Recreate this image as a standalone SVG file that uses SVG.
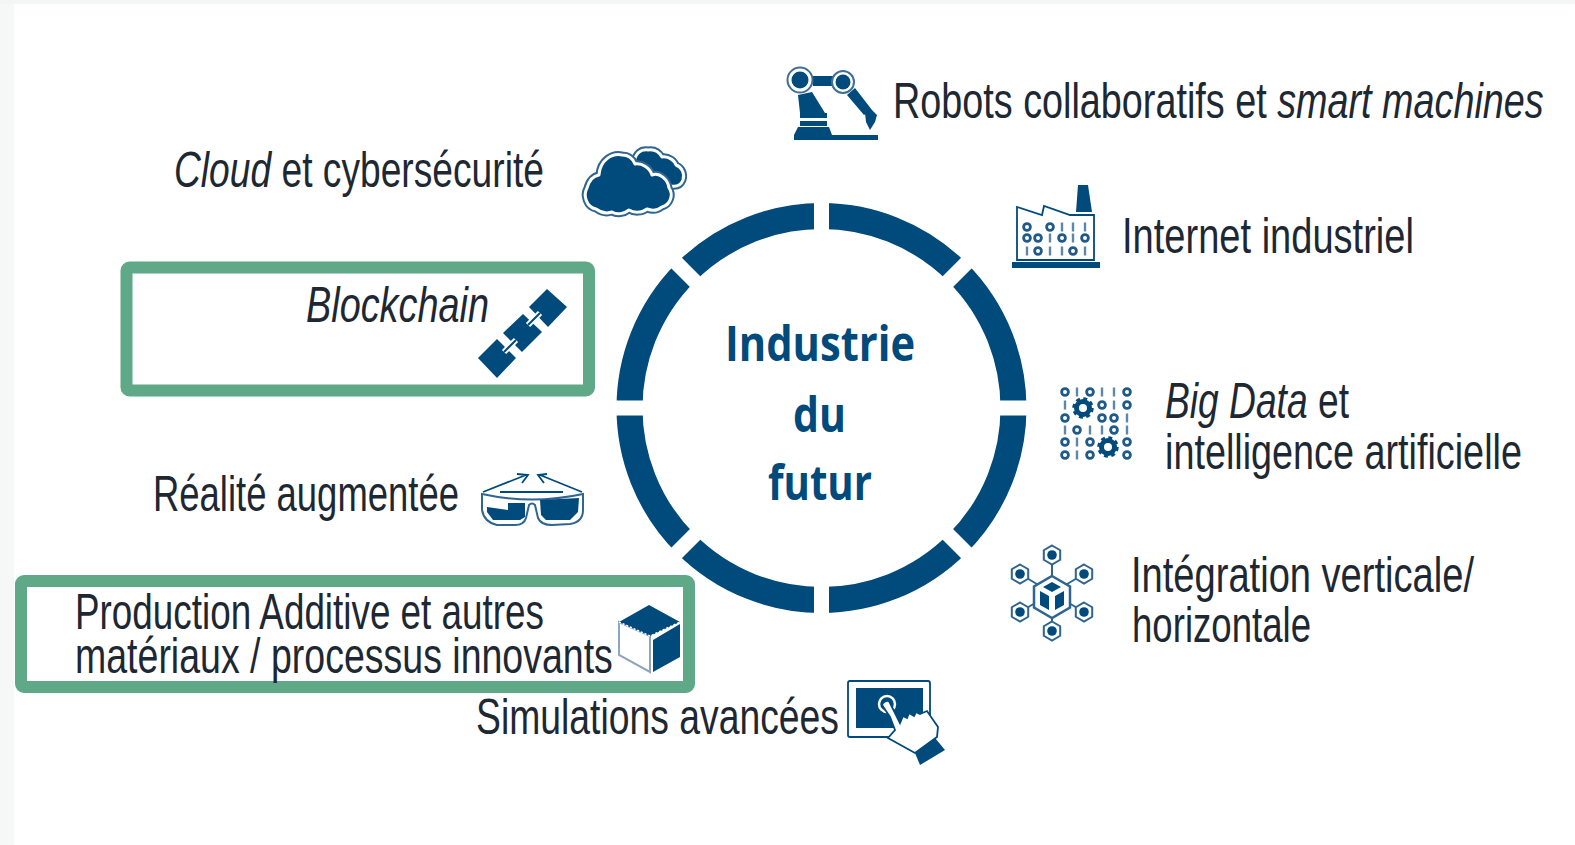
<svg xmlns="http://www.w3.org/2000/svg" width="1575" height="845" viewBox="0 0 1575 845">
<style>
.t{font-family:"Liberation Sans",Arial,sans-serif;font-size:50px;fill:#1d2833}
.i{font-style:italic}
.c{font-family:"Open Sans","Noto Sans",sans-serif;font-size:48px;font-weight:700;fill:#004a7c}
.box{fill:none;stroke:#5fa888;stroke-width:12}
.b{fill:#004a7c}
.l{fill:none;stroke:#004a7c;stroke-width:1.8}
</style>
<defs>
<circle id="o" r="3.4" fill="none" stroke="#1f5a88" stroke-width="2.8"/>
<rect id="n" x="-1.2" y="-4.5" width="2.4" height="9" fill="#5f88a8"/>
<g id="gear"><circle r="6.5" fill="none" stroke="#004a7c" stroke-width="5"/><circle r="9.5" fill="none" stroke="#004a7c" stroke-width="2.5" stroke-dasharray="4 3.46"/></g>
<g id="hex"><polygon points="0,-9.500 8.200,-4.750 8.200,4.750 0,9.500 -8.200,4.750 -8.200,-4.750" fill="#fff" stroke="#2f6590" stroke-width="2"/><circle r="4.800" fill="#004a7c"/></g>
</defs>
<rect width="1575" height="845" fill="#fff"/>
<rect width="14" height="845" fill="#f6f7f7"/>
<rect width="1575" height="4" fill="#f4f5f5"/>

<g id="ring">
<circle cx="821.5" cy="408" r="192" fill="none" stroke="#004a7c" stroke-width="26"/>
<g stroke="#fff" stroke-width="15">
<line x1="821.5" y1="195" x2="821.5" y2="621"/>
<line x1="608" y1="408" x2="1035" y2="408"/>
<line x1="671" y1="257.5" x2="972" y2="558.5"/>
<line x1="972" y1="257.5" x2="671" y2="558.5"/>
</g>
<text class="c" x="725" y="361" textLength="190" lengthAdjust="spacingAndGlyphs">Industrie</text>
<text class="c" x="793" y="432" textLength="53" lengthAdjust="spacingAndGlyphs">du</text>
<text class="c" x="768" y="500" textLength="104" lengthAdjust="spacingAndGlyphs">futur</text>
</g>

<g id="connectors"/>

<g id="node-robots">
<path class="b" d="M794,135H878V140H794ZM798,127H829L832,135H794ZM800,121H827V126H800ZM800,113H827V118H800ZM798,95L812,92L825,113H800ZM813,76H833V86H813ZM847,95L855,88L872,110L864,115ZM865,113L872,110L877,115L875,122L870,130L866,122Z"/>
<circle cx="800" cy="80" r="12.500" fill="#fff" stroke="#3f6f98" stroke-width="2"/><circle class="b" cx="800" cy="80" r="8.500"/>
<circle cx="843" cy="82" r="11" fill="#fff" stroke="#3f6f98" stroke-width="2"/><circle class="b" cx="843" cy="82" r="7.500"/>
<text class="t" transform="translate(893,118) scale(.7557,1)">Robots collaboratifs et <tspan class="i">smart machines</tspan></text>
</g>

<g id="node-internet">
<path class="b" d="M1078,185H1088L1092,212H1076ZM1012,262H1100V268H1012Z"/>
<path class="l" d="M1017,260V207L1042,215L1044,206L1070,215H1094V260Z"/>
<use href="#o" x="1027" y="227"/><use href="#o" x="1050" y="227"/><use href="#n" x="1062" y="227"/><use href="#n" x="1073" y="227"/><use href="#n" x="1085" y="227"/>
<use href="#o" x="1027" y="238"/><use href="#o" x="1038" y="238"/><use href="#n" x="1050" y="238"/><use href="#o" x="1062" y="238"/><use href="#n" x="1073" y="238"/><use href="#o" x="1085" y="238"/>
<use href="#n" x="1027" y="251"/><use href="#o" x="1038" y="251"/><use href="#n" x="1050" y="251"/><use href="#n" x="1062" y="251"/><use href="#o" x="1073" y="251"/><use href="#n" x="1085" y="251"/>
<text class="t" transform="translate(1122,253) scale(.7614,1)">Internet industriel</text>
</g>

<g id="node-bigdata">
<use href="#o" x="1065" y="392"/><use href="#n" x="1077" y="392"/><use href="#o" x="1090" y="392"/><use href="#n" x="1102" y="392"/><use href="#n" x="1114" y="392"/><use href="#o" x="1127" y="392"/>
<use href="#n" x="1065" y="405"/><use href="#o" x="1102" y="405"/><use href="#n" x="1114" y="405"/><use href="#o" x="1127" y="405"/>
<use href="#o" x="1065" y="418"/><use href="#o" x="1102" y="418"/><use href="#o" x="1114" y="418"/><use href="#n" x="1127" y="418"/>
<use href="#n" x="1065" y="430"/><use href="#o" x="1077" y="430"/><use href="#n" x="1090" y="430"/><use href="#n" x="1102" y="430"/><use href="#o" x="1114" y="430"/><use href="#n" x="1127" y="430"/>
<use href="#o" x="1065" y="442"/><use href="#n" x="1077" y="442"/><use href="#o" x="1090" y="442"/><use href="#o" x="1127" y="442"/>
<use href="#o" x="1065" y="455"/><use href="#n" x="1077" y="455"/><use href="#o" x="1090" y="455"/><use href="#o" x="1127" y="455"/>
<use href="#gear" x="1083" y="408"/><use href="#gear" x="1108" y="447"/>
<text class="t" transform="translate(1165,418) scale(.744,1)"><tspan class="i">Big Data</tspan> et</text>
<text class="t" transform="translate(1165,469) scale(.7558,1)">intelligence artificielle</text>
</g>

<g id="node-integration">
<g stroke="#2f6590" stroke-width="2"><line x1="1052" y1="555" x2="1052" y2="631"/><line x1="1020" y1="574" x2="1084" y2="612"/><line x1="1084" y1="574" x2="1020" y2="612"/></g>
<polygon points="1052,576 1070,586.500 1070,607.500 1052,618 1034,607.500 1034,586.500" fill="#fff" stroke="#2f6590" stroke-width="2.500"/>
<path class="b" d="M1052,582L1061,587L1052,592L1043,587ZM1040,591L1049,596V610L1040,605ZM1064,591L1055,596V610L1064,605Z"/>
<use href="#hex" x="1052" y="555"/><use href="#hex" x="1020" y="574"/><use href="#hex" x="1084" y="574"/><use href="#hex" x="1020" y="612"/><use href="#hex" x="1084" y="612"/><use href="#hex" x="1052" y="631"/>
<text class="t" transform="translate(1131,592) scale(.762,1)">Intégration verticale/</text>
<text class="t" transform="translate(1132,642) scale(.732,1)">horizontale</text>
</g>

<g id="node-simulations">
<rect x="848" y="681" width="82" height="56" rx="2" class="l"/>
<rect class="b" x="856" y="688" width="67" height="40"/>
<circle cx="887" cy="704" r="8" fill="none" stroke="#fff" stroke-width="2.500"/>
<path fill="#fff" stroke="#004a7c" stroke-width="1.8" d="M882,705Q884,700 889,701L900,723L903,716L907,718L909,713L914,716L916,712L920,714L927,711L938,727L937,737L915,753L888,738L895,730L890,717Z"/>
<path class="b" d="M915,753L935,738L945,750L920,765Z"/>
<text class="t" transform="translate(476,734) scale(.7465,1)">Simulations avancées</text>
</g>

<g id="node-production">
<rect class="box" x="21" y="581" width="668" height="106" rx="3"/>
<polygon points="619,622 650,636 650,672 619,655" fill="#fff" stroke="#8fa5bd" stroke-width="2"/>
<path class="b" d="M649,605L680,622L650,636L619,622ZM653,640L680,624V657L653,672Z"/>
<path d="M619,622L650,636L680,622" fill="none" stroke="#fff" stroke-width="1.500" stroke-dasharray="2 2"/>
<text class="t" transform="translate(75,629) scale(.737,1)">Production Additive et autres</text>
<text class="t" transform="translate(75,673) scale(.7504,1)">matériaux / processus innovants</text>
</g>

<g id="node-realite">
<path class="l" d="M483,492L526,475M517,474L528,475L522,483M582,492L540,475M547,474L538,475L544,483"/>
<path d="M482,494Q532,505 583,494V510Q583,522 570,524L552,525Q541,525 538,518L535,505Q532,502 529,505L526,518Q524,525 515,525L497,525Q484,522 482,510Z" fill="#fff" stroke="#2f6590" stroke-width="2"/>
<path class="l" d="M500,492H563"/>
<path class="b" d="M487,503L525,503V517L520,520H493L487,512ZM540,500L579,498L578,512L570,520H546L541,515Z"/>
<path fill="#fff" d="M486,502L508,503V510L487,507Z"/>
<text class="t" transform="translate(153,511) scale(.729,1)">Réalité augmentée</text>
</g>

<g id="node-blockchain">
<rect class="box" x="126.500" y="267.500" width="462.500" height="123" rx="3"/>
<path class="b" d="M547,289L567,307L548,327L529,307ZM523,314L542,332L522,352L503,333ZM497,339L516,358L497,378L478,358Z"/>
<path fill="none" stroke="#fff" stroke-width="6" d="M528,325L540,313M504,352L516,340"/>
<path fill="none" stroke="#004a7c" stroke-width="2" d="M528,325L540,313M504,352L516,340"/>
<text class="t i" transform="translate(306,322) scale(.757,1)">Blockchain</text>
</g>

<g id="node-cloud">
<g id="back-cloud"><path fill="#004a7c" stroke="#2f6590" stroke-width="7" stroke-linejoin="round" d="M633,164C634,154 640,150 647,151C653,150 658,153 661,158C668,157 674,162 675,166C681,168 684,175 682,181C680,186 676,188 670,187L650,175Z" transform="translate(1,-1)"/>
<path fill="#004a7c" stroke="#fff" stroke-width="3" stroke-linejoin="round" d="M633,164C634,154 640,150 647,151C653,150 658,153 661,158C668,157 674,162 675,166C681,168 684,175 682,181C680,186 676,188 670,187L650,175Z" transform="translate(1,-1)"/></g>
<path fill="#004a7c" stroke="#2f6590" stroke-width="7" stroke-linejoin="round" d="M596,209C586,207 583,195 587,188C589,181 592,176 599,175C600,160 612,153 622,155C629,155 633,159 635,164C642,163 650,168 652,175C660,172 668,180 669,188C674,195 670,205 662,207C657,211 652,211 647,209C642,213 634,213 629,210C624,214 617,215 612,212C606,214 600,212 596,209Z"/>
<path fill="#004a7c" stroke="#fff" stroke-width="3" stroke-linejoin="round" d="M596,209C586,207 583,195 587,188C589,181 592,176 599,175C600,160 612,153 622,155C629,155 633,159 635,164C642,163 650,168 652,175C660,172 668,180 669,188C674,195 670,205 662,207C657,211 652,211 647,209C642,213 634,213 629,210C624,214 617,215 612,212C606,214 600,212 596,209Z"/>
<text class="t" transform="translate(174,187) scale(.744,1)"><tspan class="i">Cloud</tspan> et cybersécurité</text>
</g>
</svg>
